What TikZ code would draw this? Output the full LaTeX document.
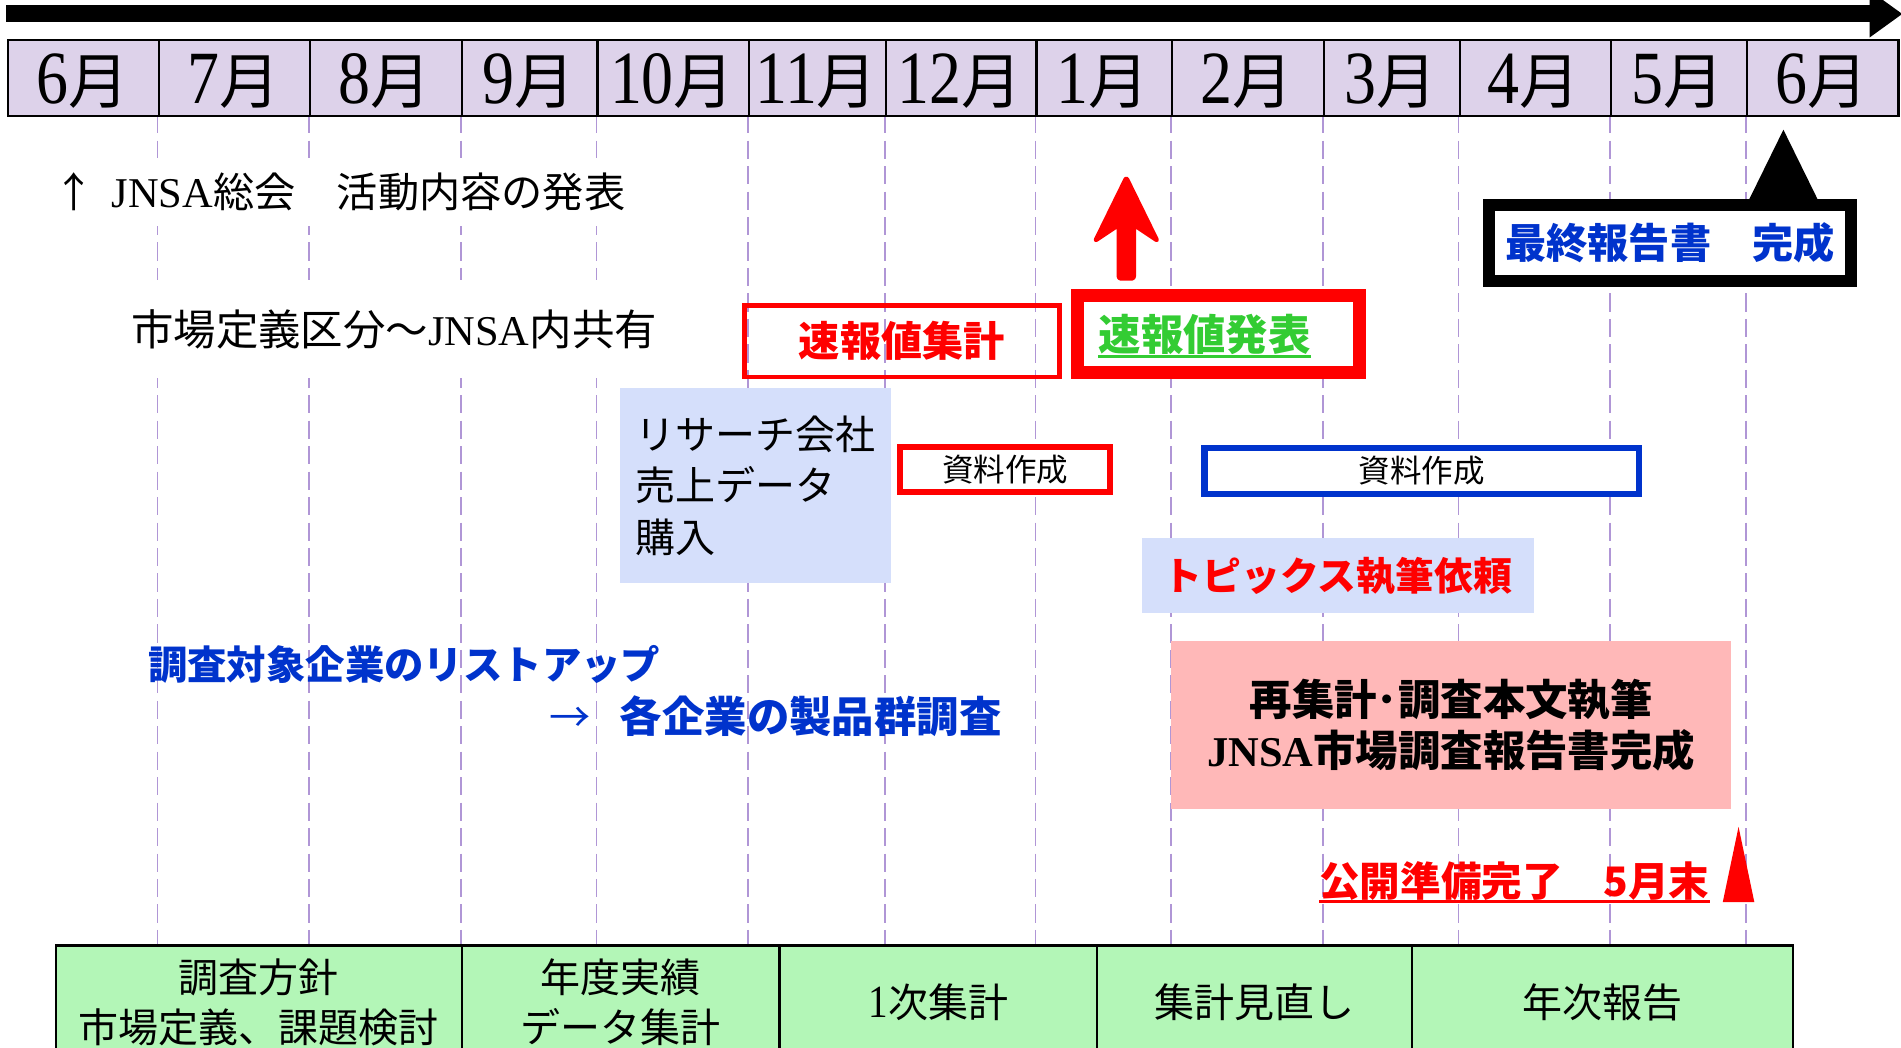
\documentclass[tikz,border=0pt]{standalone}
\usepackage{fontspec}
\setmainfont{Noto Sans CJK JP}
\newfontfamily\tnr{Liberation Serif}
\newfontfamily\tnrc{Liberation Serif}[FakeStretch=0.85]
\usetikzlibrary{arrows.meta}
\definecolor{monthfill}{RGB}{221,210,234}
\definecolor{gridc}{RGB}{176,150,214}
\definecolor{lblue}{RGB}{213,223,251}
\definecolor{pinkf}{RGB}{255,184,184}
\definecolor{greenf}{RGB}{179,246,183}
\definecolor{tblue}{RGB}{0,51,204}
\definecolor{tgreen}{RGB}{51,204,51}
\definecolor{tred}{RGB}{255,0,0}
\newcommand{\fs}[2]{\fontsize{#1pt}{#2pt}\selectfont}
\begin{document}
\begin{tikzpicture}[x=1pt,y=-1pt,
  monthcell/.style={draw=black,line width=1.8pt,fill=monthfill,inner sep=0pt,minimum height=63pt,anchor=north west},
  gridline/.style={draw=gridc,line width=1.4pt,dash pattern=on 15pt off 6pt},
  greencell/.style={draw=black,line width=1.8pt,fill=greenf,inner sep=0pt,minimum height=94pt,anchor=north west},
  plain/.style={inner sep=0pt,text=black},
  whitebg/.style={fill=white,inner sep=0pt},
]
\useasboundingbox (0,0) rectangle (1568,864);
\clip (0,0) rectangle (1568,864);
% grid lines
\foreach \x in {130,255,380,492,617,730,854,966,1091,1203,1328,1440}
  \draw[gridline] (\x,95) -- (\x,779);
% top timeline arrow
\fill[black] (5,4.5) rectangle (1544,18.5);
\fill[black] (1542,-8) -- (1569,11.5) -- (1542,31) -- cycle;
% months
\foreach \a/\b/\mm [count=\i] in {6/130/6,130/255/7,255/380/8,380/492/9,492/617/10,617/730/11,730/854/12,854/966/1,966/1091/2,1091/1203/3,1203/1328/4,1328/1440/5,1440/1565/6}{
  \pgfmathsetmacro\cw{\b-\a}
  \pgfmathsetmacro\cx{(\a+\b)/2}
  \node[monthcell,minimum width=\cw pt] (m\i) at (\a,32) {};
  \node[plain,anchor=base] (ml\i) at (\cx,85) {{\tnrc\fs{62}{62}\mm}{\fs{50}{50}月}};
}
% upper texts
\node[whitebg,anchor=west,minimum height=56pt,font=\fs{34}{40}] (jnsa) at (44,158) {↑\hspace{14pt}{\tnr\fs{35}{40}JNSA}総会　活動内容の発表};
\node[whitebg,anchor=west,minimum height=81pt,font=\fs{35}{40}] (shijo) at (108,271.5) {市場定義区分～{\tnr\fs{35}{40}JNSA}内共有};
% sokuhou boxes
\node[draw=tred,line width=4pt,minimum width=260pt,minimum height=59pt,inner sep=0pt,text=tred,font=\bfseries\fs{34}{40}] (shuukei) at (744,281.5) {速報値集計};
\node[draw=tred,fill=white,line width=11pt,minimum width=233pt,minimum height=64pt,inner sep=0pt] (happyo) at (1005,275.5) {};
\node[anchor=west,inner sep=0pt,text=tgreen,font=\bfseries\fs{35}{40}] (happyotxt) at (906,276) {速報値発表};
\draw[tgreen,line width=2.5pt] ([yshift=-5pt]happyotxt.base west) -- ([yshift=-5pt]happyotxt.base east);
% red up arrow
\filldraw[tred,line width=3pt,line join=round,rounded corners=2pt] (929,146) -- (955,199) -- (935.5,186) -- (935.5,230) -- (922.5,230) -- (922.5,186) -- (903,199) -- cycle;
% final report
\fill[black] (1442,166) -- (1471,107) -- (1500,166) -- cycle;
\node[draw=black,fill=white,line width=10pt,minimum width=299pt,minimum height=63pt,inner sep=0pt,text=tblue,font=\bfseries\fs{34}{40}] (final) at (1377.5,200.5) {最終報告書　完成};
% shiryo sakusei
\node[draw=tred,fill=white,line width=5pt,minimum width=173pt,minimum height=37pt,inner sep=0pt,font=\fs{26}{30}] (shiryo1) at (829,387) {資料作成};
\node[draw=tblue,fill=white,line width=5pt,minimum width=358pt,minimum height=38pt,inner sep=0pt,font=\fs{26}{30}] (shiryo2) at (1172.5,388.5) {資料作成};
% research
\node[fill=lblue,minimum width=223pt,minimum height=161pt,inner sep=0pt,align=left,font=\fs{33}{42.5}] (research) at (623,400.5) {リサーチ会社\\売上データ\\購入};
\node[fill=lblue,minimum width=323pt,minimum height=62pt,inner sep=0pt,text=tred,font=\bfseries\fs{32}{36}] (topics) at (1103.5,475) {トピックス執筆依頼};
% blue texts
\node[anchor=west,inner sep=0pt,text=tblue,font=\bfseries\fs{32.5}{36}] (listup) at (122,548) {調査対象企業のリストアップ};
\node[inner sep=0pt,text=tblue,font=\fs{34}{36}] (arr) at (470,594) {→};
\node[anchor=west,inner sep=0pt,text=tblue,font=\bfseries\fs{35}{40}] (seihin) at (511,591) {各企業の製品群調査};
% pink box
\node[fill=pinkf,minimum width=462pt,minimum height=138pt,inner sep=0pt,align=center,font=\bfseries\fs{35}{42}] (pink) at (1197,598) {再集計･調査本文執筆\\{\tnr\bfseries JNSA}市場調査報告書完成};
% kokai
\node[anchor=west,inner sep=0pt,text=tred,font=\bfseries\fs{33.5}{38}] (kokai) at (1088,727) {公開準備完了　5月末};
\draw[tred,line width=2.5pt] ([yshift=-4pt]kokai.base west) -- ([yshift=-4pt]kokai.base east);
\fill[tred] (1421,744) -- (1434,682) -- (1447,744) -- cycle;
% bottom phases
\foreach \a/\b [count=\i] in {45/380,380/642,642/904,904/1164,1164/1478}{
  \pgfmathsetmacro\cw{\b-\a}
  \node[greencell,minimum width=\cw pt] (g\i) at (\a,779) {};
}
\node[plain,align=center,font=\fs{33}{41}] (gt1) at (g1.center) {調査方針\\市場定義、課題検討};
\node[plain,align=center,font=\fs{33}{41}] (gt2) at (g2.center) {年度実績\\データ集計};
\node[plain,font=\fs{33}{41}] (gt3) at (g3.center) {{\tnrc\fs{38}{41}1}次集計};
\node[plain,font=\fs{33}{41}] (gt4) at (g4.center) {集計見直し};
\node[plain,font=\fs{33}{41}] (gt5) at (g5.center) {年次報告};
\end{tikzpicture}
\end{document}
